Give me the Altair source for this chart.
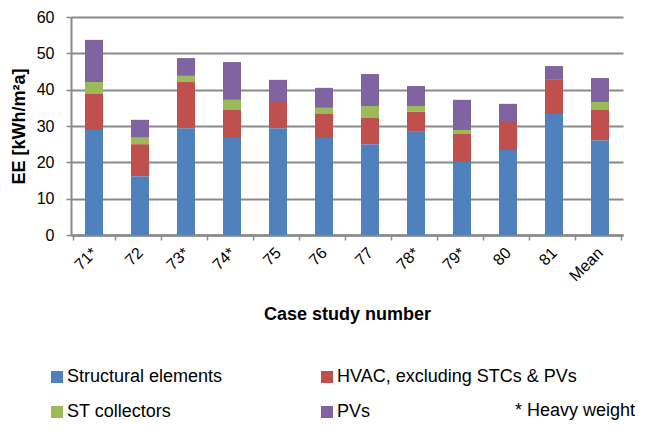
import altair as alt
import pandas as pd

cases = ["71*", "72", "73*", "74*", "75", "76", "77", "78*", "79*", "80", "81", "Mean"]
series = ["Structural elements", "HVAC, excluding STCs & PVs", "ST collectors", "PVs"]
structural = [28.9, 16.2, 29.4, 26.7, 29.4, 26.7, 25.0, 28.4, 20.1, 23.4, 33.3, 26.1]
hvac = [9.9, 8.8, 12.7, 7.7, 7.2, 6.6, 7.2, 5.5, 7.7, 7.7, 9.4, 8.3]
st_collectors = [3.3, 1.8, 1.7, 2.8, 0.0, 1.7, 3.3, 1.6, 1.1, 0.0, 0.0, 2.2]
pvs = [11.6, 4.9, 4.9, 10.4, 6.1, 5.5, 8.8, 5.5, 8.3, 5.0, 3.8, 6.6]
colors = ["#4F81BD", "#C0504D", "#9BBB59", "#8064A2"]

rows = []
for si, (name, vals) in enumerate(zip(series, [structural, hvac, st_collectors, pvs])):
    for c, v in zip(cases, vals):
        rows.append({"case": c, "component": name, "value": v, "order": si})
df = pd.DataFrame(rows)

FONT = "Liberation Sans"
GRAY = "#8a8a8a"

bars = alt.Chart(df).mark_bar(size=18).encode(
    x=alt.X("case:N", sort=cases,
            axis=alt.Axis(title="Case study number", labelAngle=-45, labelAlign="right",
                          labelBaseline="middle", labelFontSize=16, labelPadding=10,
                          tickBand="extent", tickSize=5, tickColor=GRAY, tickWidth=1.5,
                          domainColor=GRAY, domainWidth=2.5, grid=False,
                          titleFontSize=18, titleFontWeight="bold", titleY=79,
                          titleBaseline="middle")),
    y=alt.Y("value:Q", stack="zero",
            scale=alt.Scale(domain=[0, 60], nice=False),
            axis=alt.Axis(title="EE [kWh/m²a]", values=[0, 10, 20, 30, 40, 50, 60],
                          labelFontSize=16, labelPadding=12, tickSize=5, tickColor=GRAY,
                          tickWidth=1.5, domainColor=GRAY, domainWidth=2,
                          gridColor=GRAY, gridWidth=2, titleFontSize=18,
                          titleFontWeight="bold", titleX=-52, titleY=109,
                          titleBaseline="middle", titleAlign="center")),
    color=alt.Color("component:N", sort=series,
                    scale=alt.Scale(domain=series, range=colors),
                    legend=alt.Legend(title=None, orient="none", legendX=-23, legendY=351,
                                      direction="horizontal",
                                      columns=2, columnPadding=95, rowPadding=17,
                                      symbolType="square", symbolSize=144,
                                      symbolStrokeWidth=0, labelFontSize=18,
                                      labelOffset=1, padding=0, labelLimit=400)),
    order=alt.Order("order:Q", sort="ascending"),
)

note = alt.Chart(pd.DataFrame({"t": ["* Heavy weight"]})).mark_text(
    align="left", baseline="alphabetic", fontSize=18, font=FONT, color="black"
).encode(x=alt.value(444), y=alt.value(399), text="t:N")

chart = alt.layer(bars, note).properties(
    width=552, height=218,
    autosize=alt.AutoSizeParams(type="none"),
    padding={"left": 63, "top": 9, "right": 15, "bottom": 185},
).configure(font=FONT).configure_view(stroke=None).configure_axis(
    labelColor="black", titleColor="black", labelFont=FONT, titleFont=FONT
).configure_legend(labelColor="black", labelFont=FONT)

chart.save("out.html", embed_options={"renderer": "svg", "actions": False})
